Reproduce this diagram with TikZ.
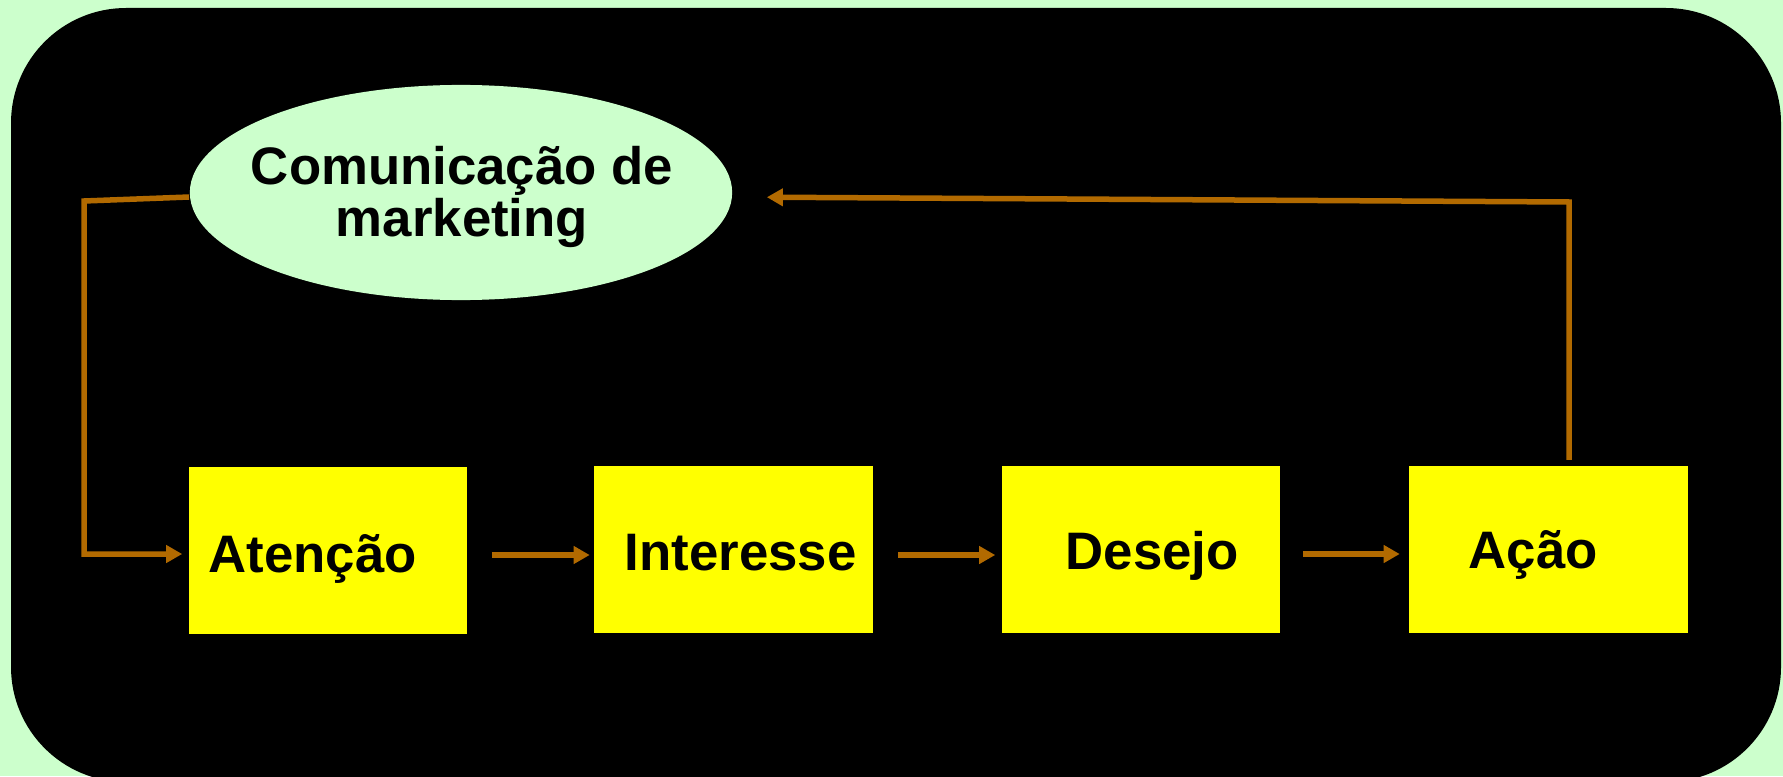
\documentclass[tikz,border=0pt]{standalone}
\usepackage{fontspec}
\setmainfont{Liberation Sans}
\usetikzlibrary{arrows.meta,shapes.geometric}
\definecolor{bgGreen}{HTML}{CCFFCC}
\definecolor{boxYellow}{HTML}{FFFF00}
\definecolor{connBrown}{RGB}{178,106,0}
\tikzset{
  stagebox/.style={rectangle, fill=boxYellow, draw=none, inner sep=0pt,
    minimum width=2.78cm, minimum height=1.66cm},
  commell/.style={ellipse, fill=bgGreen, draw=none, inner sep=0pt,
    minimum width=5.42cm, minimum height=2.15cm},
  lbl/.style={anchor=base west, inner sep=0pt, font=\fontsize{15}{15}\selectfont\bfseries, text=black},
  conn/.style={draw=connBrown, line width=0.055cm},
  connarrow/.style={conn, -{Triangle[length=0.16cm,width=0.17cm]}},
}
\begin{document}
\begin{tikzpicture}[x=0.01cm,y=-0.01cm]
\useasboundingbox (0,0) rectangle (1783,776);
\fill[bgGreen] (0,0) rectangle (1783,776);
\begin{scope}
\clip (0,0) rectangle (1783,776);
\fill[black, rounded corners=1.15cm] (11,8) rectangle (1781,782);
\end{scope}

% ellipse
\node[commell] (com) at (461,192.5) {};
\node[anchor=base, inner sep=0pt, align=center, font=\fontsize{15}{14.6}\selectfont\bfseries] (comtxt) at (462,236) {Comunicação de\\marketing};

% boxes
\node[stagebox] (aten) at (328,550.5) {};
\node[stagebox] (inte) at (733.5,549.5) {};
\node[stagebox] (dese) at (1141,549.5) {};
\node[stagebox] (acao) at (1548.5,549.5) {};

\node[lbl] (atentxt) at (208,572) {Atenção};
\node[lbl] (intetxt) at (624,570) {Interesse};
\node[lbl] (desetxt) at (1065,569) {Desejo};
\node[lbl] (acaotxt) at (1468,568) {Ação};

% connectors
\coordinate (c1) at (84,201);
\coordinate (c2) at (84,554);
\coordinate (c3) at (1569,202);
\draw[connarrow, shorten >=0.06cm] ([yshift=-0.045cm]com.west) -- (c1) -- (c2) -- ([yshift=-0.035cm]aten.west);
\draw[connarrow, shorten <=0.24cm, shorten >=0.04cm] ([yshift=-0.045cm]aten.east) -- ([yshift=-0.055cm]inte.west);
\draw[connarrow, shorten <=0.25cm, shorten >=0.06cm] ([yshift=-0.055cm]inte.east) -- ([yshift=-0.055cm]dese.west);
\draw[connarrow, shorten <=0.22cm, shorten >=0.09cm] ([yshift=-0.045cm]dese.east) -- ([yshift=-0.045cm]acao.west);
\draw[connarrow, shorten <=0.06cm, shorten >=0.34cm] ([xshift=0.205cm]acao.north) -- (c3) -- ([yshift=-0.045cm]com.east);
\end{tikzpicture}
\end{document}
